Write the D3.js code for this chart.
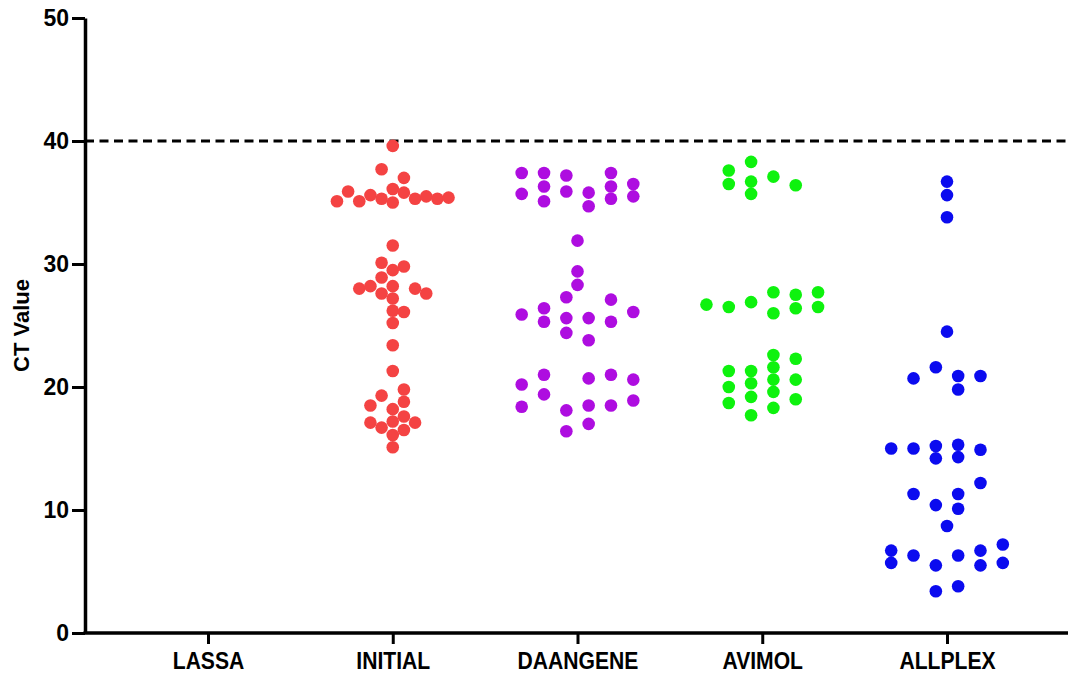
<!DOCTYPE html>
<html>
<head>
<meta charset="utf-8">
<script src="https://cdn.jsdelivr.net/npm/d3@7"></script>
<style>
  html, body { margin: 0; padding: 0; background: #fff; }
  svg text { font-family: "Liberation Sans", Arial, Helvetica, sans-serif; font-weight: bold; }
</style>
</head>
<body>
<svg id="chart" width="1068" height="675"></svg>
<script>
// ---- Data ----
const categories = ["LASSA", "INITIAL", "DAANGENE", "AVIMOL", "ALLPLEX"];
const yTicks = [0, 10, 20, 30, 40, 50];
const cutoff = 40;

// CT values per assay, with the swarm column (slot) each dot occupies
const lassaCT = [];
const lassaSlot = [];

const initialCT = [39.6, 37.7, 37.0, 35.9, 36.1, 35.8, 35.1, 35.1, 35.6, 35.3, 35.0, 35.3, 35.5, 35.3, 35.4,
  31.5, 30.1, 29.5, 29.8, 28.9, 28.0, 28.2, 28.2, 28.0, 27.6, 27.6, 27.2, 26.2, 26.1, 25.2, 23.4, 21.3,
  19.8, 19.3, 18.5, 18.8, 18.2, 17.1, 16.7, 17.2, 17.6, 17.1, 16.5, 16.1, 15.1];
const initialSlot = [0, -1, 1, -4, 0, 1, -5, -3, -2, -1, 0, 2, 3, 4, 5,
  0, -1, 0, 1, -1, -3, -2, 0, 2, 3, -1, 0, 0, 1, 0, 0, 0,
  1, -1, -2, 1, 0, -2, -1, 0, 1, 2, 1, 0, 0];

const daangeneCT = [37.4, 35.7, 37.4, 36.3, 35.1, 37.2, 35.9, 35.8, 34.7, 37.4, 36.3, 35.3, 36.5, 35.5,
  31.9, 29.4, 28.3, 27.3, 27.1, 25.9, 26.4, 25.3, 25.6, 25.6, 25.3, 26.1, 24.4, 23.8,
  20.2, 21.0, 19.4, 18.4, 20.7, 21.0, 20.6, 18.9, 18.5, 18.5, 18.1, 17.0, 16.4];
const daangeneSlot = [-5, -5, -3, -3, -3, -1, -1, 1, 1, 3, 3, 3, 5, 5,
  0, 0, 0, -1, 3, -5, -3, -3, -1, 1, 3, 5, -1, 1,
  -5, -3, -3, -5, 1, 3, 5, 5, 3, 1, -1, 1, -1];

const avimolCT = [37.6, 36.5, 38.3, 36.7, 35.7, 37.1, 36.4,
  26.7, 26.5, 26.9, 27.7, 26.0, 27.5, 26.4, 27.7, 26.5,
  21.3, 20.0, 18.7, 21.3, 20.3, 19.2, 17.7, 22.6, 21.6, 20.6, 19.6, 18.3, 22.3, 20.6, 19.0];
const avimolSlot = [-3, -3, -1, -1, -1, 1, 3,
  -5, -3, -1, 1, 1, 3, 3, 5, 5,
  -3, -3, -3, -1, -1, -1, -1, 1, 1, 1, 1, 1, 3, 3, 3];

const allplexCT = [36.7, 35.6, 33.8, 24.5,
  20.7, 21.6, 20.9, 19.8, 20.9,
  15.0, 15.0, 15.2, 14.2, 15.3, 14.3, 14.9, 12.2, 11.3, 11.3, 10.4, 10.1, 8.7,
  6.7, 5.7, 6.3, 5.5, 6.3, 6.7, 5.5, 7.2, 5.7, 3.4, 3.8];
const allplexSlot = [0, 0, 0, 0,
  -3, -1, 1, 1, 3,
  -5, -3, -1, -1, 1, 1, 3, 3, -3, 1, -1, 1, 0,
  -5, -5, -3, -1, 1, 3, 3, 5, 5, -1, 1];

const groupColors = ["#000000", "#f44343", "#ae0de0", "#0ef20e", "#0b0bef"];

// ---- Build table ----
const groups = [
  [lassaCT, lassaSlot], [initialCT, initialSlot], [daangeneCT, daangeneSlot],
  [avimolCT, avimolSlot], [allplexCT, allplexSlot]
];
const points = [];
groups.forEach(([vals, slots], gi) => {
  vals.forEach((v, i) => points.push({ cat: categories[gi], value: v, slot: slots[i], color: groupColors[gi] }));
});

// ---- Scales ----
const svg = d3.select("#chart");
const x = d3.scalePoint().domain(categories).range([208, 947]);
const y = d3.scaleLinear().domain([0, 50]).range([633, 18]);
const slotX = d3.scaleLinear().domain([-5, 5]).range([-55.8, 55.8]);
const axisLeftX = 85;

// ---- Cutoff line ----
svg.append("line")
  .attr("x1", axisLeftX).attr("x2", 1068)
  .attr("y1", y(cutoff)).attr("y2", y(cutoff))
  .attr("stroke", "#000").attr("stroke-width", 3)
  .attr("stroke-dasharray", "9,5.5");

// ---- Y axis ----
const yAxis = svg.append("g")
  .attr("transform", `translate(${axisLeftX},0)`)
  .call(d3.axisLeft(y).tickValues(yTicks).tickSize(13).tickPadding(3).tickSizeOuter(0));
yAxis.attr("font-size", null).attr("font-family", null);
yAxis.select(".domain").attr("stroke", "#000").attr("stroke-width", 3.5);
yAxis.selectAll(".tick line").attr("stroke", "#000").attr("stroke-width", 3);
yAxis.selectAll(".tick text").attr("fill", "#000")
  .style("font-size", "23px")
  .style("font-weight", "bold");

// ---- X axis ----
const xAxis = svg.append("g")
  .attr("transform", `translate(0,${y(0)})`)
  .call(d3.axisBottom(x).tickSize(11).tickPadding(8).tickSizeOuter(0));
xAxis.attr("font-size", null).attr("font-family", null);
xAxis.select(".domain").attr("d", `M${axisLeftX - 1.5},0H1068`).attr("stroke", "#000").attr("stroke-width", 3.5);
xAxis.selectAll(".tick line").attr("stroke", "#000").attr("stroke-width", 3);
xAxis.selectAll(".tick text").attr("fill", "#000")
  .style("font-size", "24px")
  .attr("transform", "scale(0.88,1)")
  .style("font-weight", "bold");

// ---- Y title ----
svg.append("text")
  .attr("transform", `translate(29,${y(25)}) rotate(-90)`)
  .attr("text-anchor", "middle")
  .style("font-size", "22px")
  .attr("fill", "#000")
  .text("CT Value");

// ---- Dots ----
svg.append("g").selectAll("circle")
  .data(points)
  .join("circle")
  .attr("cx", d => x(d.cat) + slotX(d.slot))
  .attr("cy", d => y(d.value))
  .attr("r", 6.3)
  .attr("fill", d => d.color);
</script>
</body>
</html>
